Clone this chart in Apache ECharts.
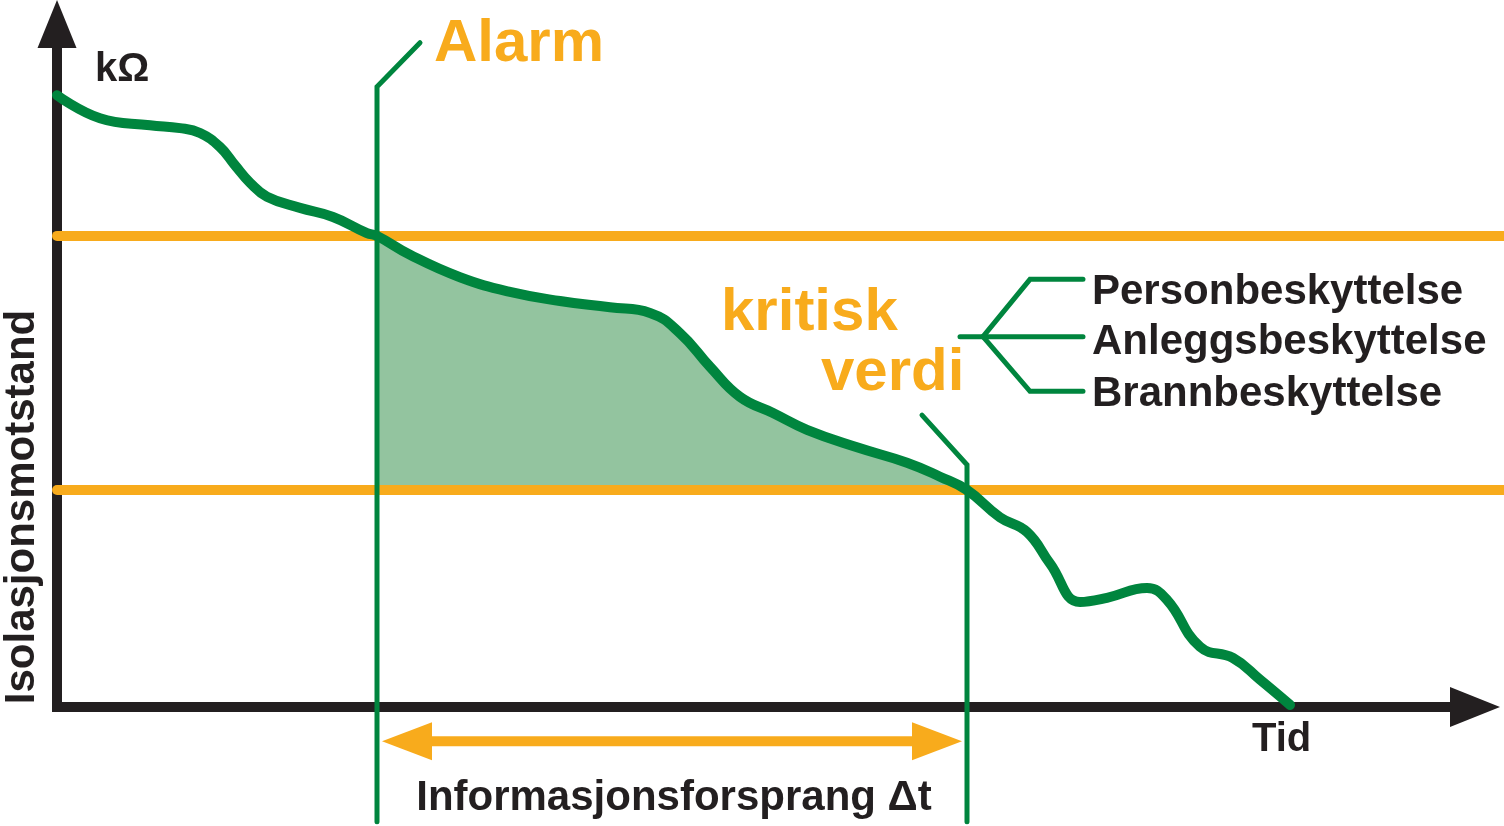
<!DOCTYPE html>
<html><head><meta charset="utf-8">
<script src="https://cdn.jsdelivr.net/npm/echarts@6/dist/echarts.min.js"></script>
<style>html,body{margin:0;padding:0;background:#fff}#c{width:1504px;height:826px}</style>
</head><body><div id="c"></div>
<script>
// ---- data (x: time units, y: kΩ units) ----
const curvePoints = [
  [0,87.4],[4.3,84.1],[9.3,83.1],[12.3,82.7],[14.3,82.0],[16.3,80.0],[17.8,77.4],
  [19.3,74.9],[21.0,72.9],[24.3,71.3],[27.6,70.0],[31.0,67.7],[32.0,67.3],[35.3,64.6],
  [40.3,61.4],[45.3,59.3],[50.3,58.0],[55.3,57.1],[59.3,56.3],[62.3,53.4],
  [65.3,48.6],[68.3,44.3],[71.6,42.0],[75.0,39.6],[80.0,37.1],[85.0,34.9],[88.3,32.9],
  [91.0,31.0],[94.3,27.1],[97.0,25.0],[99.3,20.5],[102.3,15.0],[105.0,15.6],[109.0,17.0],
  [111.0,15.3],[114.3,8.6],[117.6,7.0],[120.3,3.9],[123.3,0.3]
];
const alarmLevel = 67.3;
const criticalLevel = 31.0;
const alarmTime = 32.0;
const criticalTime = 91.0;
const levelLineEnd = 144.7;
const alarmMarker = [[alarmTime,-16.4],[alarmTime,88.6],[36.3,94.9]];
const criticalMarker = [[criticalTime,-16.4],[criticalTime,34.6],[86.5,41.7]];
const bracketMid = [[90.3,52.9],[102.6,52.9]];
const bracketTop = [[92.6,52.9],[97.3,61.1],[102.6,61.1]];
const bracketBottom = [[92.6,52.9],[97.3,45.1],[102.6,45.1]];
const deltaArrow = [32.5, 90.5, -4.9]; // from, to, level
const protectionLabels = ['Personbeskyttelse','Anleggsbeskyttelse','Brannbeskyttelse'];

const GREEN = '#00853e', ORANGE = '#f8ab1c', FILL = '#93c49f', BLACK = '#231f20';
const FONT = '"Liberation Sans", Arial, sans-serif';
const SMOOTH = 0.45;

const fillPts = curvePoints.filter(p => p[0] >= alarmTime && p[0] <= criticalTime);

function poly(data, color, width, z) {
  return {type:'line', xAxisIndex:1, yAxisIndex:1, data, symbol:'none', clip:false, silent:true, z,
    lineStyle:{color, width, cap:'round', join:'miter'}};
}
function txt(text, x, y, size, color, align, rot) {
  const o = {type:'text', x, y, silent:true, z:100,
    style:{text, fill:color, fontSize:size, fontWeight:'bold', fontFamily:FONT,
      align:align || 'left', verticalAlign:'middle'}};
  if (rot) o.rotation = rot;
  return o;
}
const hiddenAxis = {show:false, axisLine:{show:false}, axisTick:{show:false}, axisLabel:{show:false}, splitLine:{show:false}};

const chart = echarts.init(document.getElementById('c'), null, {renderer:'canvas'});
chart.setOption({
  animation:false,
  backgroundColor:'#fff',
  grid:[{left:57, top:21, width:1420, height:686}, {left:57, top:21, width:1447, height:686}],
  xAxis:[
    {gridIndex:0, type:'value', min:0, max:142,
      axisLine:{onZero:true, symbol:['none','triangle'], symbolSize:[40,50], symbolOffset:[0,-2],
        lineStyle:{color:BLACK, width:10, cap:'square'}},
      axisTick:{show:false}, axisLabel:{show:false}, splitLine:{show:false}},
    Object.assign({gridIndex:1, type:'value', min:0, max:levelLineEnd}, hiddenAxis)
  ],
  yAxis:[
    {gridIndex:0, type:'value', min:0, max:98,
      axisLine:{onZero:true, symbol:['none','triangle'], symbolSize:[39,48], symbolOffset:[0,-3],
        lineStyle:{color:BLACK, width:10, cap:'square'}},
      axisTick:{show:false}, axisLabel:{show:false}, splitLine:{show:false}},
    Object.assign({gridIndex:1, type:'value', min:0, max:98}, hiddenAxis)
  ],
  series:[
    {type:'line', xAxisIndex:1, yAxisIndex:1, data:fillPts, smooth:SMOOTH, symbol:'none', silent:true, z:1,
      lineStyle:{width:0}, areaStyle:{color:FILL, opacity:1, origin:criticalLevel}},
    poly([[0,alarmLevel],[levelLineEnd,alarmLevel]], ORANGE, 10, 2),
    poly([[0,criticalLevel],[levelLineEnd,criticalLevel]], ORANGE, 10, 2),
    Object.assign(poly(curvePoints, GREEN, 10, 4), {smooth:SMOOTH}),
    poly(alarmMarker, GREEN, 5, 5),
    poly(criticalMarker, GREEN, 5, 5),
    poly(bracketMid, GREEN, 5, 5),
    poly(bracketTop, GREEN, 5, 5),
    poly(bracketBottom, GREEN, 5, 5),
    {type:'line', xAxisIndex:1, yAxisIndex:1, clip:false, silent:true, z:6, showSymbol:true,
      lineStyle:{color:ORANGE, width:10}, itemStyle:{color:ORANGE},
      data:[
        {value:[deltaArrow[0]+2.5, deltaArrow[2]], symbol:'triangle', symbolSize:[38,50], symbolRotate:90},
        {value:[deltaArrow[1]-2.5, deltaArrow[2]], symbol:'triangle', symbolSize:[38,50], symbolRotate:-90}
      ]}
  ],
  graphic:[
    txt('kΩ', 95, 70, 40, BLACK),
    txt('Alarm', 434, 44, 60, ORANGE),
    txt('kritisk', 721, 313, 60, ORANGE),
    txt('verdi', 821, 373, 60, ORANGE),
    txt(protectionLabels[0], 1092, 292, 42, BLACK),
    txt(protectionLabels[1], 1092, 342, 42, BLACK),
    txt(protectionLabels[2], 1092, 394, 42, BLACK),
    txt('Tid', 1252, 740, 40, BLACK),
    txt('Informasjonsforsprang Δt', 674, 798, 42, BLACK, 'center'),
    txt('Isolasjonsmotstand', 22, 507, 42, BLACK, 'center', Math.PI/2)
  ]
});
</script></body></html>
